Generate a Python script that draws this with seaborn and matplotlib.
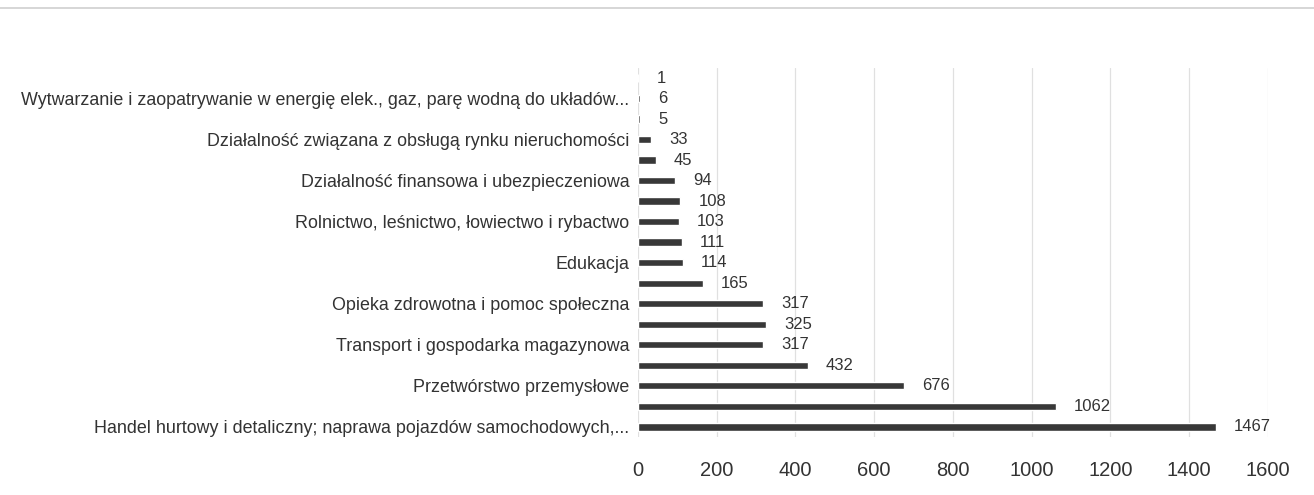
import matplotlib
matplotlib.use("Agg")
import matplotlib.pyplot as plt
import seaborn as sns
import pandas as pd
from matplotlib.lines import Line2D

categories = [
    "Górnictwo i wydobywanie",
    "Wytwarzanie i zaopatrywanie w energię elek., gaz, parę wodną do układów...",
    "Dostawa wody; gospodarowanie ściekami i odpadami",
    "Działalność związana z obsługą rynku nieruchomości",
    "Administracja publiczna i obrona narodowa",
    "Działalność finansowa i ubezpieczeniowa",
    "Działalność związana z kulturą, rozrywką i rekreacją",
    "Rolnictwo, leśnictwo, łowiectwo i rybactwo",
    "Informacja i komunikacja",
    "Edukacja",
    "Pozostała działalność usługowa",
    "Opieka zdrowotna i pomoc społeczna",
    "Administrowanie i działalność wspierająca",
    "Transport i gospodarka magazynowa",
    "Działalność profesjonalna, naukowa i techniczna",
    "Przetwórstwo przemysłowe",
    "Budownictwo",
    "Handel hurtowy i detaliczny; naprawa pojazdów samochodowych,...",
]
values = [1, 6, 5, 33, 45, 94, 108, 103, 111, 114, 165, 317, 325, 317, 432, 676, 1062, 1467]
x_ticks = [0, 200, 400, 600, 800, 1000, 1200, 1400, 1600]

df = pd.DataFrame({"kategoria": categories, "wartosc": values})

sns.set_theme(style="white")
plt.rcParams["font.family"] = ["Liberation Sans", "DejaVu Sans"]

fig = plt.figure(figsize=(13.14, 4.95), dpi=100)
ax = fig.add_axes([0.4855, 0.117, 0.965 - 0.4855, 0.746])

bar_color = "#383838"
sns.barplot(data=df, x="wartosc", y="kategoria", orient="h", color=bar_color,
            width=0.36, saturation=1, ax=ax, zorder=3)

ax.set_xlim(0, 1600)
ax.set_ylim(len(categories) - 0.5, -0.5)
ax.set_xticks(x_ticks)
ax.set_xticklabels([str(t) for t in x_ticks], fontsize=14.5, color="#333333")
ax.set_yticks(range(len(categories)))
ax.set_yticklabels([c if i % 2 == 1 else "" for i, c in enumerate(categories)],
                   fontsize=12.9, color="#333333")
ax.tick_params(axis="both", length=0)
ax.tick_params(axis="x", pad=17)
ax.tick_params(axis="y", pad=6)
ax.set_xlabel("")
ax.set_ylabel("")
ax.grid(axis="x", color="#e0e0e0", linewidth=0.9, zorder=0)
ax.grid(axis="y", visible=False)
for s in ax.spines.values():
    s.set_visible(False)

for cont in ax.containers:
    ax.bar_label(cont, labels=[str(v) for v in values], padding=13,
                 fontsize=12, color="#333333")

fig.add_artist(Line2D([0.0, 1.0], [1 - 8 / 495, 1 - 8 / 495], color="#cfcfcf",
                      linewidth=1.2, transform=fig.transFigure))

fig.savefig("out.png", dpi=100, facecolor="white")
